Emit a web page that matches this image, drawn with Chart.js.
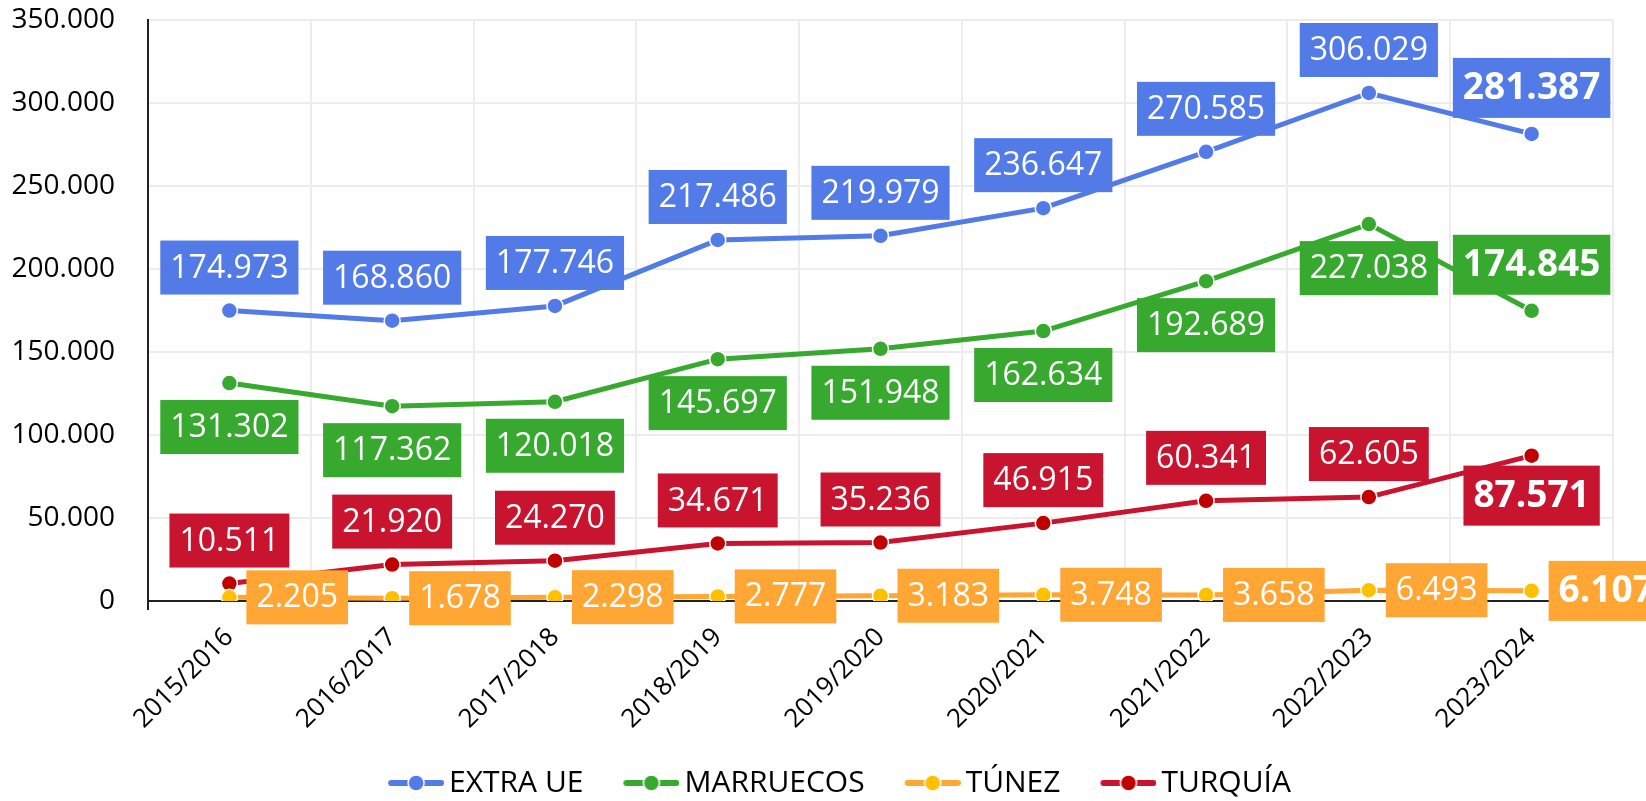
<!DOCTYPE html>
<html>
<head>
<meta charset="utf-8">
<script src="https://cdn.jsdelivr.net/npm/chart.js@4.4.1/dist/chart.umd.min.js"></script>
<style>
  html, body { margin: 0; padding: 0; background: #fff; }
  #wrap { width: 1646px; height: 801px; position: relative; }
</style>
</head>
<body>
<div id="wrap"><canvas id="chart"></canvas></div>
<script>
const seasons = ["2015/2016", "2016/2017", "2017/2018", "2018/2019", "2019/2020",
                 "2020/2021", "2021/2022", "2022/2023", "2023/2024"];
const extraUe   = [174973, 168860, 177746, 217486, 219979, 236647, 270585, 306029, 281387];
const marruecos = [131302, 117362, 120018, 145697, 151948, 162634, 192689, 227038, 174845];
const tunez     = [2205, 1678, 2298, 2777, 3183, 3748, 3658, 6493, 6107];
const turquia   = [10511, 21920, 24270, 34671, 35236, 46915, 60341, 62605, 87571];
const yTicks    = [0, 50000, 100000, 150000, 200000, 250000, 300000, 350000];

const FONT = '"Open Sans"';

// 1234567 -> "1.234.567"
function fmt(v) {
  return String(v).replace(/\B(?=(\d{3})+(?!\d))/g, '.');
}

// legend marker: short line with a dot in the middle
function legendIcon(lineColor, dotColor) {
  const c = document.createElement('canvas');
  c.width = 96;
  c.height = 24;
  const g = c.getContext('2d');
  g.lineCap = 'round';
  g.strokeStyle = lineColor;
  g.lineWidth = 6;
  g.beginPath();
  g.moveTo(43, 12);
  g.lineTo(93, 12);
  g.stroke();
  g.beginPath();
  g.arc(68, 12, 8, 0, Math.PI * 2);
  g.fillStyle = dotColor;
  g.fill();
  g.strokeStyle = '#fff';
  g.lineWidth = 1.5;
  g.stroke();
  return c;
}

// boxed value labels drawn next to each point
const valueLabels = {
  id: 'valueLabels',
  afterDatasetsDraw(chart) {
    const ctx = chart.ctx;
    ctx.save();
    chart.data.datasets.forEach((ds, di) => {
      const meta = chart.getDatasetMeta(di);
      meta.data.forEach((pt, i) => {
        const last = i === ds.data.length - 1;
        const pos = last ? ds.lastLabelPos : ds.labelPos;
        const size = last ? 37 : 32;
        const h = last ? 60 : 54;
        ctx.font = (last ? 'bold ' : '') + size + 'px ' + FONT;
        const text = fmt(ds.data[i]);
        const w = ctx.measureText(text).width + 20;
        let cx = pt.x, cy = pt.y;
        if (pos === 'above') cy = pt.y - (last ? 46 : 43);
        if (pos === 'below') cy = pt.y + (last ? 40 : 44);
        if (pos === 'right') cx = pt.x + 17 + w / 2;
        ctx.fillStyle = ds.labelColor;
        ctx.fillRect(cx - w / 2, cy - h / 2, w, h);
        ctx.fillStyle = '#fff';
        ctx.textAlign = 'center';
        ctx.textBaseline = 'middle';
        ctx.fillText(text, cx, cy + 1);
      });
    });
    ctx.restore();
  }
};

// nudge the legend row to the right, as in the original
const legendShift = {
  id: 'legendShift',
  afterLayout(chart) {
    chart.legend.left += 18;
    chart.legend.right += 18;
  }
};

Chart.defaults.font.family = FONT;
Chart.defaults.color = '#000';

const icons = [
  legendIcon('#527be8', '#527be8'),
  legendIcon('#36a92e', '#36a92e'),
  legendIcon('#ffa634', '#ffc000'),
  legendIcon('#c8142f', '#c00000')
];

function lineSet(label, data, lineColor, dotColor, labelPos, lastLabelPos) {
  return {
    label: label,
    data: data,
    borderColor: lineColor,
    backgroundColor: dotColor,
    pointBackgroundColor: dotColor,
    pointBorderColor: '#fff',
    pointBorderWidth: 1.5,
    pointRadius: 8,
    borderWidth: 5,
    tension: 0,
    labelColor: lineColor,
    labelPos: labelPos,
    lastLabelPos: lastLabelPos
  };
}

new Chart(document.getElementById('chart'), {
  type: 'line',
  data: {
    labels: seasons,
    datasets: [
      lineSet('EXTRA UE', extraUe, '#527be8', '#527be8', 'above', 'above'),
      lineSet('MARRUECOS', marruecos, '#36a92e', '#36a92e', 'below', 'above'),
      lineSet('TÚNEZ', tunez, '#ffa634', '#ffc000', 'right', 'right'),
      lineSet('TURQUÍA', turquia, '#c8142f', '#c00000', 'above', 'below')
    ]
  },
  options: {
    responsive: true,
    maintainAspectRatio: false,
    animation: false,
    layout: { padding: { top: 20, right: 33, bottom: -7, left: 0 } },
    plugins: {
      tooltip: { enabled: false },
      legend: {
        position: 'bottom',
        labels: {
          usePointStyle: true,
          pointStyleWidth: 76,
          padding: 10,
          color: '#000',
          font: { size: 30 },
          generateLabels(chart) {
            const items = Chart.defaults.plugins.legend.labels.generateLabels(chart);
            items.forEach((it, i) => { it.pointStyle = icons[i]; });
            return items;
          }
        }
      }
    },
    scales: {
      x: {
        offset: true,
        afterFit(s) { s.height = 157; },
        grid: {
          offset: true,
          color: '#ececec',
          lineWidth: 2,
          tickLength: 9,
          tickWidth: 2,
          tickColor: c => (c.index === 0 ? '#222' : 'rgba(0,0,0,0)')
        },
        border: { color: '#222', width: 2 },
        ticks: { maxRotation: 45, minRotation: 45, autoSkip: false, padding: 12, font: { size: 26 } }
      },
      y: {
        min: yTicks[0],
        max: yTicks[yTicks.length - 1],
        afterFit(s) { s.width = 148; },
        afterBuildTicks(s) { s.ticks = yTicks.map(v => ({ value: v })); },
        grid: { color: '#ececec', lineWidth: 2, tickLength: 33, tickColor: 'rgba(0,0,0,0)' },
        border: { color: '#222', width: 2 },
        ticks: { padding: 0, font: { size: 28 }, callback: v => fmt(v) }
      }
    }
  },
  plugins: [valueLabels, legendShift]
});
</script>
</body>
</html>
